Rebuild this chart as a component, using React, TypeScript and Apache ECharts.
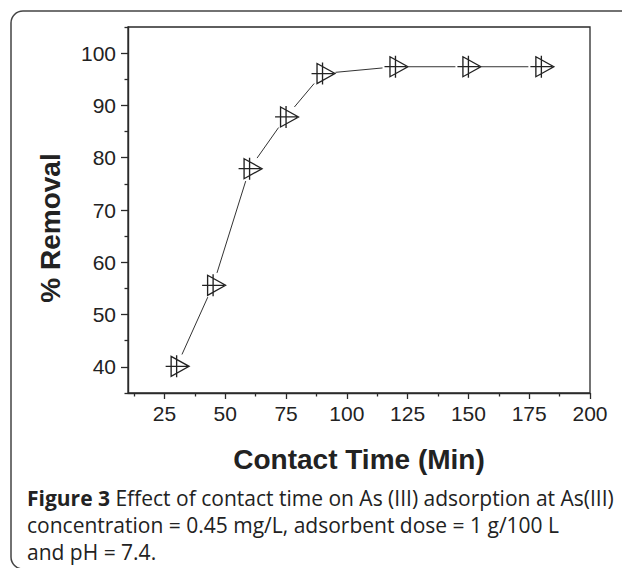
import { useEffect, useRef } from "react";
import * as echarts from "echarts";

// Data
const contactTime = [30, 45, 60, 75, 90, 120, 150, 180];
const removal = [40.1, 55.6, 77.9, 87.8, 96.1, 97.4, 97.4, 97.4];

// Axis ticks
const xMajorTicks = [25, 50, 75, 100, 125, 150, 175, 200];
const xMinorTicks = [12.5, 37.5, 62.5, 87.5, 112.5, 137.5, 162.5, 187.5];
const yMajorTicks = [40, 50, 60, 70, 80, 90, 100];
const yMinorTicks = [35, 45, 55, 65, 75, 85, 95, 105];

// Texts
const xTitle = "Contact Time (Min)";
const yTitle = "% Removal";
const captionLines = [
  "{b|Figure 3} {n|Effect of contact time on As (III) adsorption at As(III)}",
  "{n|concentration = 0.45 mg/L, adsorbent dose = 1 g/100 L}",
  "{n|and pH = 7.4.}",
];

const AXIS_COLOR = "#2a2a2a";
const MARKER_PATH = "path://M-11 0L11 0M0 -11L0 11M-5.5 -10L12.5 0L-5.5 10Z";
const CAPTION_FONT = "'Open Sans'";
const CAPTION_SIZE = 21;

export default function App() {
  const ref = useRef<HTMLDivElement>(null);

  useEffect(() => {
    if (!ref.current) return;
    const chart = echarts.init(ref.current, undefined, { renderer: "svg" });

    const axisCommon = {
      type: "value" as const,
      splitLine: { show: false },
    };

    const option: any = {
      animation: false,
      backgroundColor: "#ffffff",
      grid: {
        left: 128,
        top: 27,
        right: 32,
        bottom: 175,
        show: true,
        borderColor: AXIS_COLOR,
        borderWidth: 1.3,
        backgroundColor: "transparent",
      },
      xAxis: [
        {
          ...axisCommon,
          min: 10,
          max: 200,
          position: "bottom",
          axisLine: { show: true, onZero: false, lineStyle: { color: AXIS_COLOR, width: 1.4 } },
          axisTick: { show: true, customValues: xMajorTicks, length: 6, lineStyle: { color: AXIS_COLOR, width: 1.3 } },
          axisLabel: {
            show: true,
            customValues: xMajorTicks,
            margin: 10,
            fontFamily: "Liberation Sans",
            fontSize: 21,
            color: "#222",
          },
        },
        {
          ...axisCommon,
          min: 10,
          max: 200,
          position: "bottom",
          axisLine: { show: false, onZero: false },
          axisTick: { show: true, customValues: xMinorTicks, length: 3.5, lineStyle: { color: AXIS_COLOR, width: 1.3 } },
          axisLabel: { show: false },
        },
      ],
      yAxis: [
        {
          ...axisCommon,
          min: 35,
          max: 105,
          position: "left",
          axisLine: { show: true, onZero: false, lineStyle: { color: AXIS_COLOR, width: 1.4 } },
          axisTick: { show: true, customValues: yMajorTicks, length: 7, lineStyle: { color: AXIS_COLOR, width: 1.3 } },
          axisLabel: {
            show: true,
            customValues: yMajorTicks,
            margin: 12,
            fontFamily: "Liberation Sans",
            fontSize: 21,
            color: "#222",
          },
        },
        {
          ...axisCommon,
          min: 35,
          max: 105,
          position: "left",
          axisLine: { show: false, onZero: false },
          axisTick: { show: true, customValues: yMinorTicks, length: 3.5, lineStyle: { color: AXIS_COLOR, width: 1.3 } },
          axisLabel: { show: false },
        },
      ],
      series: [
        {
          type: "custom",
          xAxisIndex: 0,
          yAxisIndex: 0,
          silent: true,
          z: 2,
          data: contactTime.slice(0, -1).map((x, i) => [x, removal[i], contactTime[i + 1], removal[i + 1]]),
          encode: { x: [0, 2], y: [1, 3] },
          renderItem: (_params: any, api: any) => {
            const p0 = api.coord([api.value(0), api.value(1)]);
            const p1 = api.coord([api.value(2), api.value(3)]);
            const dx = p1[0] - p0[0];
            const dy = p1[1] - p0[1];
            const len = Math.hypot(dx, dy) || 1;
            const ux = dx / len;
            const uy = dy / len;
            const gap = 13;
            return {
              type: "line",
              shape: {
                x1: p0[0] + ux * gap,
                y1: p0[1] + uy * gap,
                x2: p1[0] - ux * gap,
                y2: p1[1] - uy * gap,
              },
              style: { stroke: "#333", lineWidth: 1 },
            };
          },
        },
        {
          type: "scatter",
          xAxisIndex: 0,
          yAxisIndex: 0,
          z: 3,
          data: contactTime.map((x, i) => [x, removal[i]]),
          symbol: MARKER_PATH,
          symbolSize: [23.5, 22],
          symbolOffset: [0.75, 0],
          itemStyle: { color: "none", borderColor: "#222", borderWidth: 1.3, opacity: 1 },
          emphasis: { disabled: true },
        },
      ],
      graphic: [
        {
          type: "rect",
          silent: true,
          shape: { x: 11, y: 11, width: 700, height: 558, r: 12 },
          style: { fill: "none", stroke: "#444", lineWidth: 1.5 },
        },
        {
          type: "text",
          x: 50,
          y: 228,
          rotation: Math.PI / 2,
          style: {
            text: yTitle,
            font: "bold 28px 'Liberation Sans'",
            fill: "#222",
            align: "center",
            verticalAlign: "middle",
          },
        },
        {
          type: "text",
          x: 359,
          y: 459,
          style: {
            text: xTitle,
            font: "bold 28px 'Liberation Sans'",
            fill: "#222",
            align: "center",
            verticalAlign: "middle",
          },
        },
        ...captionLines.map((line, i) => ({
          type: "text",
          x: 27,
          y: 498 + i * 27,
          style: {
            text: line,
            fontFamily: CAPTION_FONT,
            fontSize: CAPTION_SIZE,
            fill: "#222",
            align: "left",
            verticalAlign: "middle",
            rich: {
              b: { fontFamily: CAPTION_FONT, fontSize: CAPTION_SIZE, fontWeight: "bold", fill: "#222" },
              n: { fontFamily: CAPTION_FONT, fontSize: CAPTION_SIZE, fontWeight: 500, fill: "#222" },
            },
          },
        })),
      ],
    };

    chart.setOption(option);
    return () => chart.dispose();
  }, []);

  return (
    <div
      ref={ref}
      style={{ position: "absolute", left: 0, top: 0, width: 622, height: 568, background: "#fff" }}
    />
  );
}
